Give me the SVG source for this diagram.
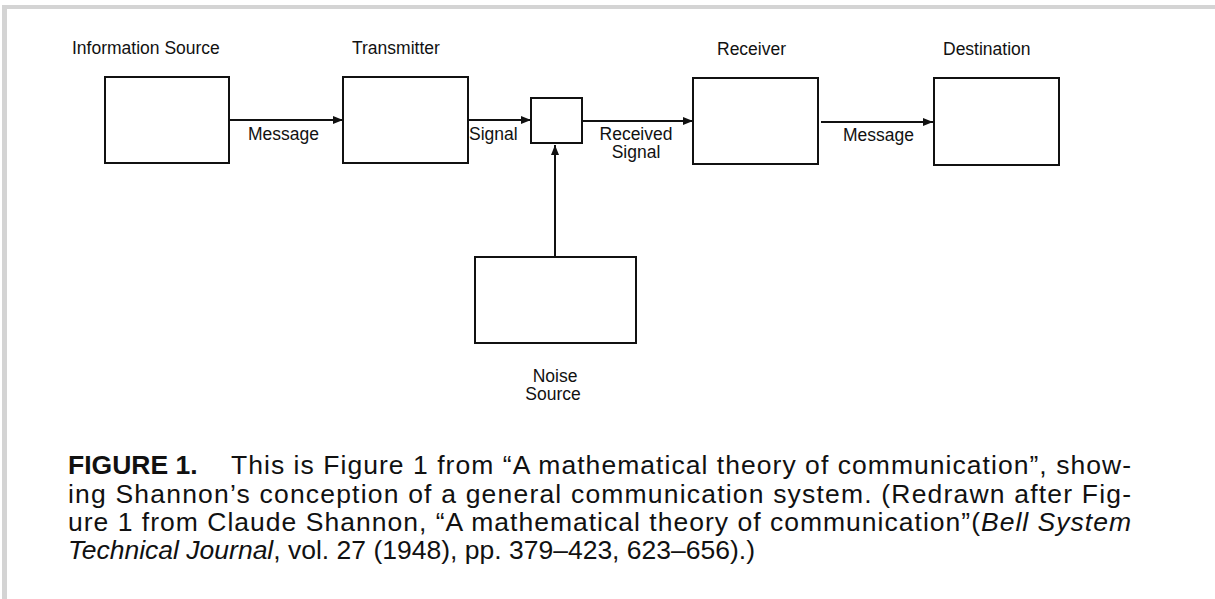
<svg xmlns="http://www.w3.org/2000/svg" width="1215" height="599" viewBox="0 0 1215 599">
<style>
.box{fill:#fff;stroke:#111;stroke-width:2}
.conn{stroke:#111;stroke-width:2;fill:none}
.lbl{font-family:"Liberation Sans",Arial,sans-serif;font-size:17.5px;fill:#111}
.cap{font-family:"Liberation Sans",Arial,sans-serif;font-size:26.5px;fill:#111}
</style>
<defs>
<marker id="arr" viewBox="0 0 10 8" refX="10" refY="4" markerWidth="10" markerHeight="8" markerUnits="userSpaceOnUse" orient="auto">
<path d="M0,0 L10,4 L0,8 z" fill="#111"/>
</marker>
</defs>
<rect x="0" y="0" width="1215" height="599" fill="#fff"/>
<rect x="2" y="5" width="1213" height="4" fill="#d4d4d4"/>
<rect x="2" y="5" width="5" height="594" fill="#d4d4d4"/>

<g id="info-source">
<rect class="box" x="105" y="77" width="124" height="86"/>
<text class="lbl" x="72" y="54">Information Source</text>
</g>
<g id="transmitter">
<rect class="box" x="343" y="77" width="125" height="86"/>
<text class="lbl" x="352" y="54">Transmitter</text>
</g>
<g id="channel">
<rect class="box" x="531" y="98" width="51" height="45"/>
</g>
<g id="receiver">
<rect class="box" x="693" y="78" width="125" height="86"/>
<text class="lbl" x="717" y="55">Receiver</text>
</g>
<g id="destination">
<rect class="box" x="934" y="78" width="125" height="87"/>
<text class="lbl" x="943" y="55">Destination</text>
</g>
<g id="noise-source">
<rect class="box" x="475" y="257" width="161" height="86"/>
<text class="lbl" x="555" y="382" text-anchor="middle">Noise</text>
<text class="lbl" x="553" y="400" text-anchor="middle">Source</text>
</g>

<g id="connectors">
<line class="conn" x1="229" y1="120" x2="343" y2="120" marker-end="url(#arr)"/>
<line class="conn" x1="468" y1="120" x2="531" y2="120" marker-end="url(#arr)"/>
<line class="conn" x1="582" y1="121" x2="693" y2="121" marker-end="url(#arr)"/>
<line class="conn" x1="821" y1="122" x2="933" y2="122" marker-end="url(#arr)"/>
<line class="conn" x1="555" y1="257" x2="555" y2="145" marker-end="url(#arr)"/>
<text class="lbl" x="248" y="140">Message</text>
<text class="lbl" x="469" y="140">Signal</text>
<text class="lbl" x="636" y="140" text-anchor="middle">Received</text>
<text class="lbl" x="636" y="158" text-anchor="middle">Signal</text>
<text class="lbl" x="843" y="141">Message</text>
</g>

<g id="caption">
<text class="cap" x="68" y="474" font-weight="bold">FIGURE 1.</text>
<text class="cap" x="231" y="474" textLength="900" lengthAdjust="spacing">This is Figure 1 from “A mathematical theory of communication”, show-</text>
<text class="cap" x="68" y="503" textLength="1063" lengthAdjust="spacing">ing Shannon’s conception of a general communication system. (Redrawn after Fig-</text>
<text class="cap" x="68" y="531" textLength="1063" lengthAdjust="spacing">ure 1 from Claude Shannon, “A mathematical theory of communication”(<tspan font-style="italic">Bell System</tspan></text>
<text class="cap" x="68" y="559"><tspan font-style="italic">Technical Journal</tspan>, vol. 27 (1948), pp. 379–423, 623–656).)</text>
</g>
</svg>
